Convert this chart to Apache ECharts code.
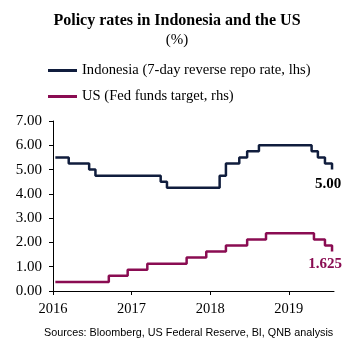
<!DOCTYPE html>
<html>
<head>
<meta charset="utf-8">
<script src="https://cdn.jsdelivr.net/npm/echarts@6/dist/echarts.min.js"></script>
<style>
html, body { margin: 0; padding: 0; background: #fff; }
#chart { width: 354px; height: 356px; }
</style>
</head>
<body>
<div id="chart"></div>
<script>
// rate changes (x in fractional years as drawn)
const indoDates = [2016.03, 2016.20, 2016.46, 2016.54, 2017.37, 2017.45, 2018.12, 2018.20, 2018.37, 2018.47, 2018.62, 2019.29, 2019.37, 2019.46, 2019.55];
const indoRates = [5.50, 5.25, 5.00, 4.75, 4.50, 4.25, 4.75, 5.25, 5.50, 5.75, 6.00, 5.75, 5.50, 5.25, 5.00];
const usDates = [2016.03, 2016.71, 2016.95, 2017.20, 2017.70, 2017.95, 2018.20, 2018.47, 2018.71, 2019.32, 2019.46, 2019.55];
const usRates = [0.375, 0.625, 0.875, 1.125, 1.375, 1.625, 1.875, 2.125, 2.375, 2.125, 1.875, 1.625];
const yearTicks = [2016, 2017, 2018, 2019];

const serif = '"Liberation Serif", "DejaVu Serif", serif';
const navy = '#101d3d';
const maroon = '#8a0c52';

function pairs(dates, rates) {
    return dates.map(function (d, i) { return [d, rates[i]]; });
}

function endLabel(text, color, offset) {
    return {
        show: true,
        formatter: text,
        distance: 0,
        align: 'center',
        verticalAlign: 'middle',
        offset: offset,
        fontFamily: serif,
        fontSize: 15,
        fontWeight: 'bold',
        color: color
    };
}

const chart = echarts.init(document.getElementById('chart'));
const option = {
    animation: false,
    title: {
        text: 'Policy rates in Indonesia and the US',
        subtext: '(%)',
        left: 'center',
        top: 8,
        itemGap: 4,
        textStyle: { fontFamily: serif, fontSize: 16, fontWeight: 'bold', color: '#000' },
        subtextStyle: { fontFamily: serif, fontSize: 15, color: '#000' }
    },
    legend: {
        orient: 'vertical',
        left: 43,
        top: 58,
        itemGap: 11,
        itemWidth: 29,
        itemHeight: 3,
        icon: 'rect',
        textStyle: { fontFamily: serif, fontSize: 14.6, color: '#000' },
        data: ['Indonesia (7-day reverse repo rate, lhs)', 'US (Fed funds target, rhs)']
    },
    grid: { left: 53, right: 20, top: 121, bottom: 65 },
    xAxis: {
        type: 'value',
        min: yearTicks[0],
        max: 2019.575,
        interval: 1,
        axisLine: { lineStyle: { color: '#000', width: 1 } },
        axisTick: { length: 4, lineStyle: { color: '#000' } },
        axisLabel: {
            showMaxLabel: false,
            margin: 11,
            fontFamily: serif,
            fontSize: 14.5,
            color: '#000',
            formatter: function (v) { return yearTicks.indexOf(v) >= 0 ? String(v) : ''; }
        },
        splitLine: { show: false }
    },
    yAxis: {
        type: 'value',
        min: 0,
        max: 7,
        interval: 1,
        axisLine: { show: true, lineStyle: { color: '#000', width: 1 } },
        axisTick: { show: true, length: 4, lineStyle: { color: '#000' } },
        axisLabel: {
            margin: 11,
            fontFamily: serif,
            fontSize: 15,
            color: '#000',
            formatter: function (v) { return v.toFixed(2); }
        },
        splitLine: { show: false }
    },
    series: [
        {
            name: 'Indonesia (7-day reverse repo rate, lhs)',
            type: 'line',
            step: 'end',
            showSymbol: false,
            symbol: 'none',
            color: navy,
            lineStyle: { width: 2.5, color: navy },
            endLabel: endLabel('5.00', '#000', [-4, 15]),
            data: pairs(indoDates, indoRates)
        },
        {
            name: 'US (Fed funds target, rhs)',
            type: 'line',
            step: 'end',
            showSymbol: false,
            symbol: 'none',
            color: maroon,
            lineStyle: { width: 2.5, color: maroon },
            endLabel: endLabel('1.625', maroon, [-7, 13]),
            data: pairs(usDates, usRates)
        }
    ],
    graphic: [{
        type: 'text',
        left: 44,
        top: 328,
        style: {
            text: 'Sources: Bloomberg, US Federal Reserve, BI, QNB analysis',
            font: '10.8px "Liberation Sans", Arial, sans-serif',
            fill: '#000'
        }
    }]
};
chart.setOption(option);
</script>
</body>
</html>
